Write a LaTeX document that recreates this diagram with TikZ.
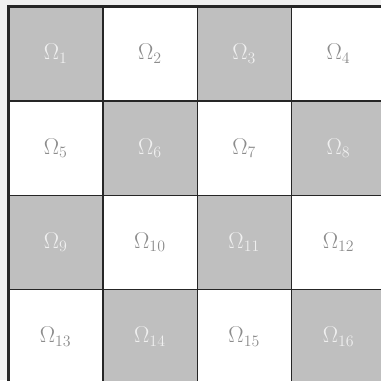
\documentclass[tikz,border=0pt]{standalone}
\usepackage{amsmath}

\tikzset{
	cell/.style={minimum size=2.5cm,inner sep=0pt,font=\LARGE},
	darkcell/.style={cell,fill=black!25,text=white!94!black},
	lightcell/.style={cell,fill=white,text=black!45},
	gridline/.style={black!85,line width=1.1pt},
	borderline/.style={black!85,line width=2pt}
}

\begin{document}
\begin{tikzpicture}
				\fill[black!6] (-0.225,0.172) rectangle (9.875,-9.902);
				\useasboundingbox (-0.225,0.172) rectangle (9.875,-9.902);
				\clip (-0.225,0.172) rectangle (9.875,-9.902);

				\node[darkcell]  (o1)  at (1.25,-1.25) {$\Omega_{1}$};
				\node[lightcell] (o2)  at (3.75,-1.25) {$\Omega_{2}$};
				\node[darkcell]  (o3)  at (6.25,-1.25) {$\Omega_{3}$};
				\node[lightcell] (o4)  at (8.75,-1.25) {$\Omega_{4}$};

				\node[lightcell] (o5)  at (1.25,-3.75) {$\Omega_{5}$};
				\node[darkcell]  (o6)  at (3.75,-3.75) {$\Omega_{6}$};
				\node[lightcell] (o7)  at (6.25,-3.75) {$\Omega_{7}$};
				\node[darkcell]  (o8)  at (8.75,-3.75) {$\Omega_{8}$};

				\node[darkcell]  (o9)  at (1.25,-6.25) {$\Omega_{9}$};
				\node[lightcell] (o10) at (3.75,-6.25) {$\Omega_{10}$};
				\node[darkcell]  (o11) at (6.25,-6.25) {$\Omega_{11}$};
				\node[lightcell] (o12) at (8.75,-6.25) {$\Omega_{12}$};

				\node[lightcell] (o13) at (1.25,-8.75) {$\Omega_{13}$};
				\node[darkcell]  (o14) at (3.75,-8.75) {$\Omega_{14}$};
				\node[lightcell] (o15) at (6.25,-8.75) {$\Omega_{15}$};
				\node[darkcell]  (o16) at (8.75,-8.75) {$\Omega_{16}$};

				\draw[gridline] (o1.north east) -- (o13.south east);
				\draw[gridline] (o2.north east) -- (o14.south east);
				\draw[gridline] (o3.north east) -- (o15.south east);
				\draw[gridline] (o1.south west) -- (o4.south east);
				\draw[gridline] (o5.south west) -- (o8.south east);
				\draw[gridline] (o9.south west) -- (o12.south east);
				\draw[borderline] (o13.south west) -- (o1.north west) -- (o4.north east);
			\end{tikzpicture}
\end{document}
